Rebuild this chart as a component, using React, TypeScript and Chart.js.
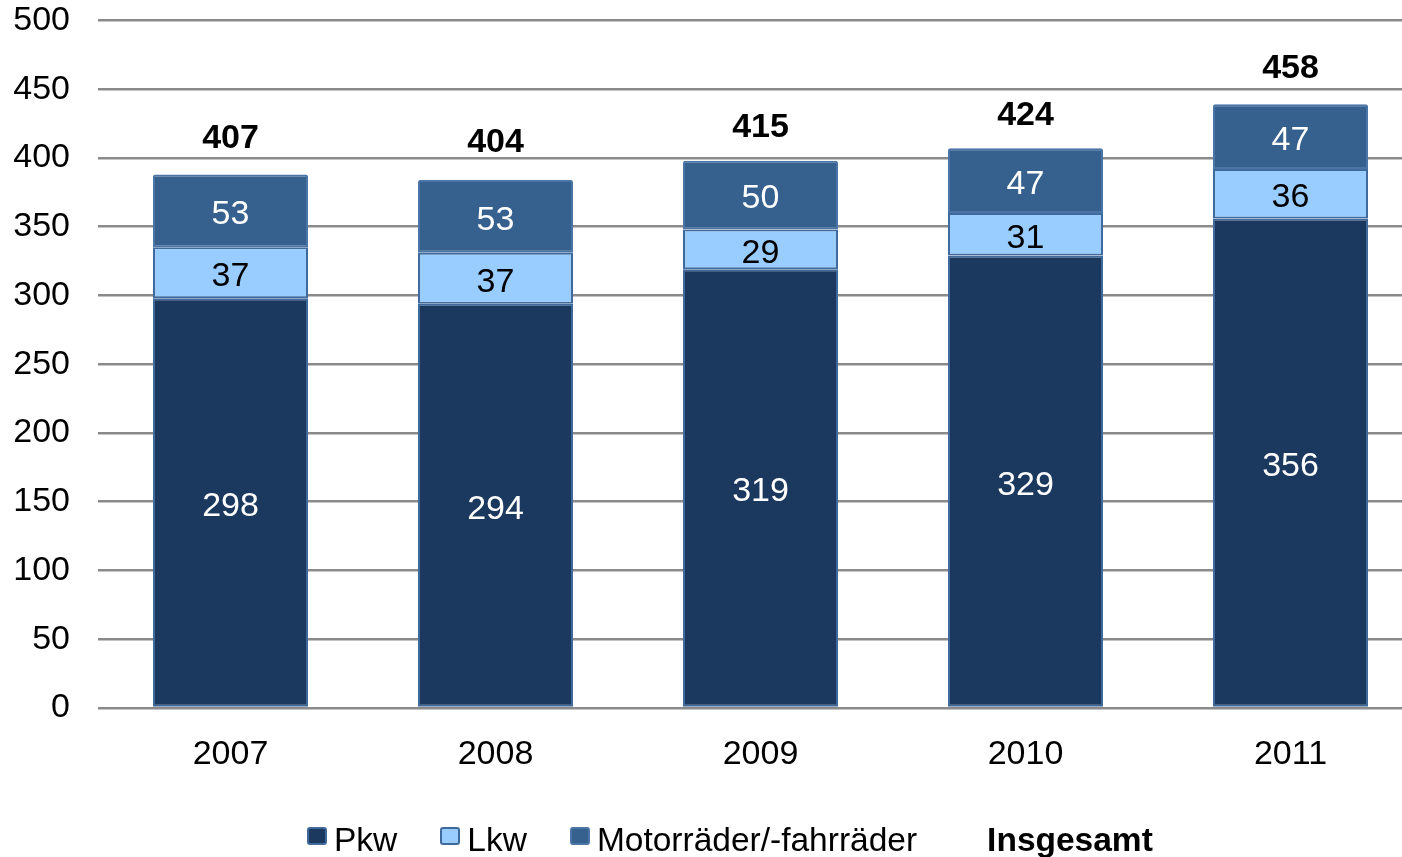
import React, { useEffect, useRef } from "react";
import { Chart, registerables } from "chart.js";

Chart.register(...registerables);

const years = ["2007", "2008", "2009", "2010", "2011"];
const pkw = [298, 294, 319, 329, 356];
const lkw = [37, 37, 29, 31, 36];
const motor = [53, 53, 50, 47, 47];
const totals = [407, 404, 415, 424, 458];
const yTicks = [0, 50, 100, 150, 200, 250, 300, 350, 400, 450, 500];

const FONT = "'Liberation Sans', Arial, sans-serif";
const C_PKW = "#1b385e";
const C_LKW = "#99ccff";
const C_MOTOR = "#36618f";
const C_BORDER = "#3f6a9b";

const labelPlugin = {
  id: "segLabels",
  afterDatasetsDraw(chart: any) {
    const ctx = chart.ctx;
    ctx.save();
    ctx.textAlign = "center";
    ctx.font = `34px ${FONT}`;
    ctx.textBaseline = "middle";
    chart.data.datasets.forEach((ds: any, di: number) => {
      const meta = chart.getDatasetMeta(di);
      meta.data.forEach((el: any, i: number) => {
        const cy = (el.y + el.base) / 2 + 4;
        ctx.fillStyle = di === 1 ? "#000000" : "#ffffff";
        ctx.fillText(String(ds.data[i]), el.x, cy);
      });
    });
    const y = chart.scales.y;
    const top = chart.getDatasetMeta(2);
    ctx.font = `bold 34px ${FONT}`;
    ctx.fillStyle = "#000000";
    ctx.textBaseline = "alphabetic";
    totals.forEach((t, i) => {
      const el = top.data[i];
      ctx.fillText(String(t), el.x, y.getPixelForValue(t));
    });
    ctx.restore();
  },
};

const legendItems = [
  { label: "Pkw", fill: C_PKW, border: C_BORDER, bold: false },
  { label: "Lkw", fill: C_LKW, border: C_BORDER, bold: false },
  { label: "Motorräder/-fahrräder", fill: C_MOTOR, border: "#4a75a6", bold: false },
  { label: "Insgesamt", fill: "transparent", border: "transparent", bold: true },
];

export default function App() {
  const ref = useRef<HTMLCanvasElement>(null);
  useEffect(() => {
    if (!ref.current) return;
    const chart = new Chart(ref.current, {
      type: "bar",
      data: {
        labels: years,
        datasets: [
          { label: "Pkw", data: pkw, backgroundColor: C_PKW, borderColor: C_BORDER, borderWidth: 2 },
          { label: "Lkw", data: lkw, backgroundColor: C_LKW, borderColor: C_BORDER, borderWidth: 2 },
          { label: "Motorräder/-fahrräder", data: motor, backgroundColor: C_MOTOR, borderColor: "#4a75a6", borderWidth: 2, borderRadius: { topLeft: 2, topRight: 2, bottomLeft: 0, bottomRight: 0 } as any },
        ],
      },
      options: {
        responsive: false,
        animation: false,
        layout: { padding: { top: 0, left: 0, right: 2, bottom: 59 } },
        datasets: { bar: { barPercentage: 0.585, categoryPercentage: 1, borderSkipped: false } as any },
        plugins: { legend: { display: false }, tooltip: { enabled: false } },
        scales: {
          x: {
            stacked: true,
            grid: { display: false },
            border: { display: false },
            ticks: { color: "#000", font: { family: FONT, size: 34 }, padding: 18 },
            afterFit: (s: any) => { s.height = 90; },
          },
          y: {
            stacked: true,
            min: 0,
            max: 500,
            afterBuildTicks: (s: any) => { s.ticks = yTicks.map((v) => ({ value: v })); },
            grid: { color: "#8a8a8a", lineWidth: 2.5, drawTicks: true, tickLength: 28, tickColor: "rgba(0,0,0,0)" },
            border: { display: false },
            ticks: { color: "#000", font: { family: FONT, size: 34 }, padding: 0 },
            afterFit: (s: any) => { s.width = 98; },
          },
        },
      },
      plugins: [labelPlugin],
    });
    return () => chart.destroy();
  }, []);

  return (
    <div style={{ position: "absolute", top: 0, left: 0, width: 1402, height: 857, overflow: "hidden", background: "#fff" }}>
      <canvas ref={ref} width={1425} height={857} style={{ width: 1425, height: 857, display: "block" }} />
      <div style={{ position: "absolute", top: 823, left: 307, display: "flex", alignItems: "flex-start", fontFamily: FONT, fontSize: 33.5, lineHeight: 1, color: "#000", whiteSpace: "nowrap" }}>
        {legendItems.map((it, i) => (
          <div key={i} style={{ display: "flex", alignItems: "flex-start", marginRight: i < legendItems.length - 1 ? 43 : 0 }}>
            <div style={{ width: 20, height: 18, boxSizing: "border-box", background: it.fill, border: `2px solid ${it.border}`, borderRadius: 3, marginTop: 4, marginRight: 7 }} />
            <span style={{ fontWeight: it.bold ? "bold" : "normal" }}>{it.label}</span>
          </div>
        ))}
      </div>
    </div>
  );
}
